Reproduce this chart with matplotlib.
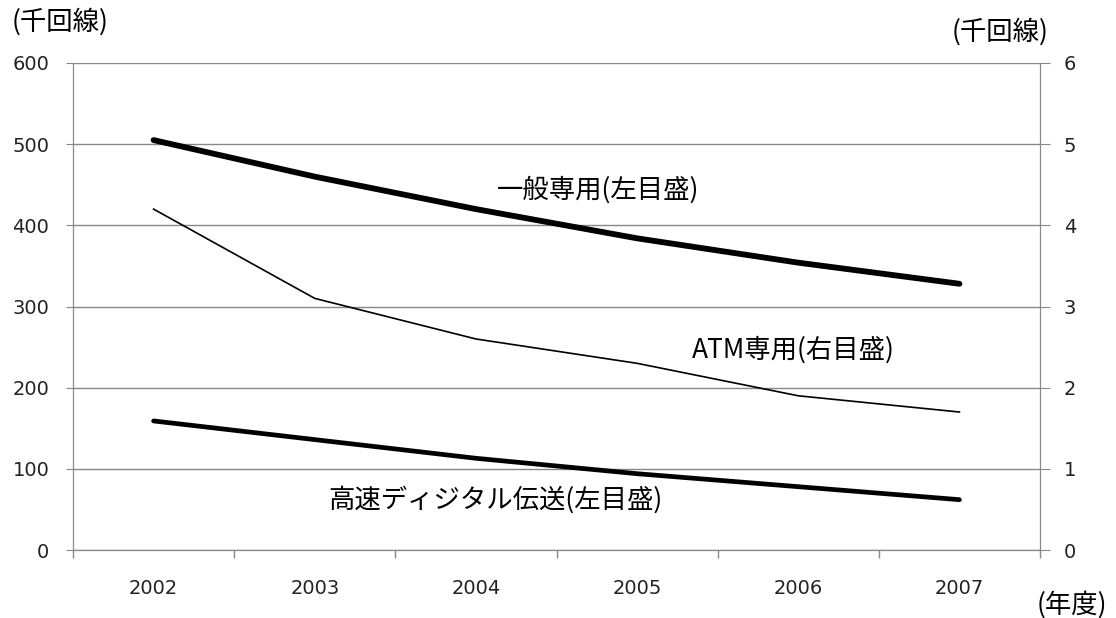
import matplotlib
matplotlib.use("Agg")
import matplotlib.pyplot as plt

plt.rcParams['font.family'] = ['Noto Sans CJK JP', 'DejaVu Sans']

# data (thousand lines)
years = ['2002', '2003', '2004', '2005', '2006', '2007']
general = [505, 460, 420, 384, 354, 328]          # left axis
hispeed = [159, 136, 113, 94, 78, 62]             # left axis
atm = [4.2, 3.1, 2.6, 2.3, 1.9, 1.7]              # right axis

grid_color = '#888888'

fig = plt.figure(figsize=(11.16, 6.18), dpi=100)
ax = fig.add_axes([73 / 1116, 68 / 618, (1040 - 73) / 1116, (550 - 63) / 618])
ax2 = ax.twinx()

x = list(range(len(years)))
ax.plot(x, general, color='black', lw=4.2, solid_capstyle='round')
ax.plot(x, hispeed, color='black', lw=3.4, solid_capstyle='round')
ax2.plot(x, atm, color='black', lw=1.2)

ax.set_xlim(-0.5, len(years) - 0.5)
ax.set_ylim(0, 600)
ax2.set_ylim(0, 6)
ax.set_yticks(range(0, 601, 100))
ax2.set_yticks(range(0, 7))

# category axis: labels centred, tick marks on boundaries
ax.set_xticks(x)
ax.set_xticklabels(years, fontsize=14, color='#222222', family='DejaVu Sans')
ax.set_xticks([i - 0.5 for i in range(len(years) + 1)], minor=True)
ax.tick_params(axis='x', which='major', length=0, pad=21)
ax.tick_params(axis='x', which='minor', length=6, color=grid_color, width=1)

ax.tick_params(axis='y', length=5, color=grid_color, labelsize=14, pad=12, labelcolor='#222222')
ax2.tick_params(axis='y', length=7, color=grid_color, labelsize=14, pad=10, labelcolor='#222222')
for lab in ax.get_yticklabels() + ax2.get_yticklabels():
    lab.set_family('DejaVu Sans')

ax.grid(axis='y', color=grid_color, lw=1)
ax.set_axisbelow(True)
for a in (ax, ax2):
    a.spines['top'].set_visible(False)
    for s in ('left', 'right', 'bottom'):
        a.spines[s].set_color(grid_color)

ax.text(2.76, 443, '一般専用(左目盛)', fontsize=19, ha='center', va='center')
ax2.text(3.97, 2.46, 'ATM専用(右目盛)', fontsize=19, ha='center', va='center')
ax.text(2.12, 62, '高速ディジタル伝送(左目盛)', fontsize=19, ha='center', va='center')

fig.text(12 / 1116, 1 - 22 / 618, '(千回線)', fontsize=19, ha='left', va='center')
fig.text(1048 / 1116, 1 - 32 / 618, '(千回線)', fontsize=19, ha='right', va='center')
fig.text(1107 / 1116, 1 - 605 / 618, '(年度)', fontsize=19, ha='right', va='center')

fig.savefig('out.png', dpi=100)
